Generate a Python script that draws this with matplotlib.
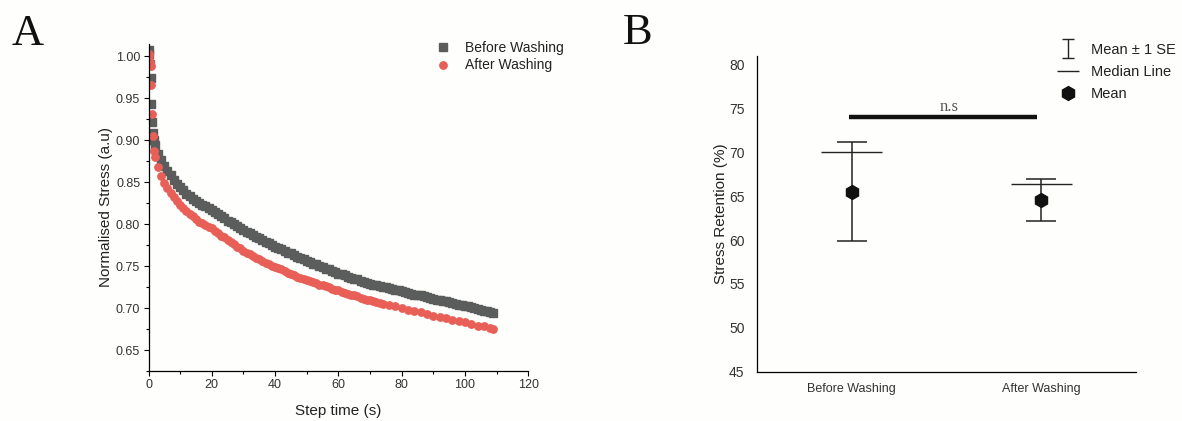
import matplotlib
matplotlib.use("Agg")
import matplotlib.pyplot as plt
import numpy as np
from matplotlib.ticker import MultipleLocator, FormatStrFormatter
from matplotlib.legend_handler import HandlerErrorbar

plt.rcParams['font.family'] = ['Liberation Sans', 'DejaVu Sans']

# ---------------- Panel A data ----------------
before_time = [0.1, 0.3, 0.5, 0.7, 0.9, 1.1, 1.3, 1.6,
               2, 3, 4, 5, 6, 7, 8, 9, 10, 11, 12, 13, 14, 15, 16, 17, 18, 19, 20,
               21, 22, 23, 24, 25, 26, 27, 28, 29, 30, 31, 32, 33, 34, 35, 36, 37, 38, 39, 40,
               41, 42, 43, 44, 45, 46, 47, 48, 49, 50, 51, 52, 53, 54, 55, 56, 57, 58, 59, 60,
               61, 62, 63, 64, 65, 66, 67, 68, 69, 70, 71, 72, 73, 74, 75, 76, 77, 78, 79, 80,
               81, 82, 83, 84, 85, 86, 87, 88, 89, 90, 91, 92, 93, 94, 95, 96, 97, 98, 99, 100,
               101, 102, 103, 104, 105, 106, 107, 108, 109]

before_stress = [1.007, 1.003, 0.990, 0.974, 0.943, 0.921, 0.909, 0.900,
                 0.894, 0.884, 0.876, 0.869, 0.863, 0.858, 0.853, 0.848, 0.844, 0.840,
                 0.836, 0.833, 0.830, 0.827, 0.825, 0.823, 0.821, 0.819, 0.817,
                 0.814, 0.812, 0.809, 0.807, 0.804, 0.802, 0.800, 0.798, 0.795, 0.793,
                 0.791, 0.789, 0.787, 0.785, 0.783, 0.781, 0.779, 0.777, 0.775, 0.773,
                 0.772, 0.770, 0.768, 0.766, 0.765, 0.763, 0.761, 0.759, 0.758, 0.756,
                 0.755, 0.753, 0.752, 0.750, 0.749, 0.747, 0.746, 0.744, 0.743, 0.741,
                 0.740, 0.739, 0.737, 0.736, 0.735, 0.734, 0.732, 0.731, 0.730, 0.729,
                 0.728, 0.727, 0.726, 0.725, 0.7245, 0.724, 0.723, 0.722, 0.721, 0.720,
                 0.719, 0.718, 0.717, 0.716, 0.7155, 0.715, 0.714, 0.713, 0.712, 0.711,
                 0.710, 0.709, 0.7085, 0.708, 0.707, 0.706, 0.705, 0.704, 0.7035, 0.703,
                 0.702, 0.701, 0.700, 0.699, 0.698, 0.697, 0.696, 0.695, 0.694]

after_time = [0.1, 0.3, 0.5, 0.7, 0.9, 1.1, 1.3, 1.6,
              2, 3, 4, 5, 6, 7, 8, 9, 10, 11, 12, 13, 14, 15, 16, 17, 18, 19, 20,
              21, 22, 23, 24, 25, 26, 27, 28, 29, 30, 31, 32, 33, 34, 35, 36, 37, 38, 39, 40,
              41, 42, 43, 44, 45, 46, 47, 48, 49, 50, 51, 52, 53, 54, 55, 56, 57, 58, 59, 60,
              61, 62, 63, 64, 65, 66, 67, 68, 69, 70, 71, 72, 73, 74,
              76, 78, 80, 82, 84, 86, 88, 90, 92, 94, 96, 98, 100, 102, 104, 106, 108, 109]

after_stress = [1.002, 1.000, 0.993, 0.988, 0.965, 0.931, 0.905, 0.887,
                0.880, 0.868, 0.857, 0.849, 0.843, 0.837, 0.832, 0.827, 0.823, 0.819,
                0.815, 0.812, 0.809, 0.806, 0.803, 0.801, 0.799, 0.797, 0.795,
                0.792, 0.789, 0.786, 0.784, 0.781, 0.779, 0.776, 0.773, 0.771, 0.768,
                0.766, 0.764, 0.762, 0.760, 0.758, 0.756, 0.754, 0.752, 0.7505, 0.749,
                0.7475, 0.746, 0.744, 0.742, 0.7405, 0.739, 0.7375, 0.736, 0.7345, 0.733,
                0.732, 0.731, 0.7295, 0.728, 0.727, 0.726, 0.7245, 0.723, 0.722, 0.721,
                0.7195, 0.718, 0.717, 0.716, 0.715, 0.714, 0.7125, 0.711, 0.710, 0.709,
                0.708, 0.707, 0.706, 0.705,
                0.704, 0.702, 0.700, 0.698, 0.696, 0.695, 0.693, 0.691, 0.689, 0.688,
                0.686, 0.684, 0.683, 0.681, 0.679, 0.678, 0.676, 0.675]

# ---------------- Panel B data ----------------
groups = ["Before Washing", "After Washing"]
mean_retention = [65.44, 64.56]
se_upper = [71.17, 66.93]
se_lower = [59.86, 62.19]
median_retention = [70.0, 66.4]
sig_label = "n.s"
sig_level = 74.0

GRAY = '#5a5d5b'
RED = '#e85f57'
TXT = '#333333'

fig = plt.figure(figsize=(11.82, 4.21), dpi=100, facecolor='#fefefd')

# ================= Panel A =================
axA = fig.add_axes([148.5 / 1182, 1 - 371 / 421, (528.3 - 148.5) / 1182, (371 - 43.5) / 421])
axA.set_facecolor('none')
axA.plot(before_time, before_stress, ls='none', marker='s', ms=5.4, color=GRAY,
         mec=GRAY, label='Before Washing')
axA.plot(after_time, after_stress, ls='none', marker='o', ms=5.3, color=RED,
         mec=RED, label='After Washing')
axA.set_xlim(0, 120)
axA.set_ylim(0.625, 1.015)
axA.xaxis.set_major_locator(MultipleLocator(20))
axA.xaxis.set_minor_locator(MultipleLocator(10))
axA.yaxis.set_major_locator(MultipleLocator(0.05))
axA.yaxis.set_minor_locator(MultipleLocator(0.025))
axA.yaxis.set_major_formatter(FormatStrFormatter('%.2f'))
for s in ['top', 'right']:
    axA.spines[s].set_visible(False)
for s in ['left', 'bottom']:
    axA.spines[s].set_linewidth(0.9)
axA.tick_params(which='major', direction='out', length=3.5, width=0.8,
                labelsize=9, labelcolor=TXT, pad=2.5)
axA.tick_params(which='minor', direction='out', length=2.5, width=0.8)
axA.set_xlabel('Step time (s)', fontsize=11, color='#222222', labelpad=9)
axA.set_ylabel('Normalised Stress (a.u)', fontsize=11, color='#222222', labelpad=2)
axA.legend(loc='upper left', bbox_to_anchor=(436 / 1182, 1 - 41 / 421),
           bbox_transform=fig.transFigure, frameon=False, fontsize=10,
           handlelength=1.0, handletextpad=1.1, labelspacing=0.25,
           borderpad=0, borderaxespad=0, labelcolor='#222222')

fig.text(12 / 1182, 1 - 45 / 421, 'A', family='Liberation Serif', fontsize=32,
         ha='left', va='baseline', color='#111111')

# ================= Panel B =================
axB = fig.add_axes([757 / 1182, 1 - 371.5 / 421, (1136 - 757) / 1182, (371.5 - 56) / 421])
axB.set_facecolor('none')
xpos = list(range(len(groups)))
yerr = [[m - lo for m, lo in zip(mean_retention, se_lower)],
        [hi - m for m, hi in zip(mean_retention, se_upper)]]
axB.errorbar(xpos, mean_retention, yerr=yerr, fmt='none', ecolor='#222222',
             elinewidth=1.1, capsize=10.8, capthick=1.1)
h_med = axB.hlines(median_retention, [x - 0.162 for x in xpos], [x + 0.162 for x in xpos],
                   colors='#222222', linewidth=1.0, label='Median Line')
h_mean, = axB.plot(xpos, mean_retention, ls='none', marker='h', ms=10, color='#111111',
                   label='Mean', zorder=5)
# legend-only proxy for the error bar symbol (small caps)
h_se = axB.errorbar([np.nan], [np.nan], yerr=[1.0], fmt='none', ecolor='#222222',
                    elinewidth=1.0, capsize=4, capthick=1.0, label='Mean \u00b1 1 SE')
axB.plot([xpos[0] - 0.015, xpos[1] - 0.02], [sig_level, sig_level], color='#111111',
         lw=3.2, solid_capstyle='butt')
axB.text(0.513, sig_level + 0.75, sig_label, family='Liberation Serif', fontsize=12,
         color='#555555', ha='center', va='baseline')
axB.set_xlim(-0.5, 1.5)
axB.set_ylim(45, 81)
axB.set_xticks(xpos)
axB.set_xticklabels(groups)
axB.yaxis.set_major_locator(MultipleLocator(5))
for s in ['top', 'right']:
    axB.spines[s].set_visible(False)
for s in ['left', 'bottom']:
    axB.spines[s].set_linewidth(0.9)
axB.tick_params(axis='both', length=0, labelcolor=TXT)
axB.tick_params(axis='y', pad=9, labelsize=10)
axB.tick_params(axis='x', pad=8, labelsize=9)
axB.set_ylabel('Stress Retention (%)', fontsize=11, color='#222222', labelpad=1)
axB.legend([h_se, h_med, h_mean], ['Mean \u00b1 1 SE', 'Median Line', 'Mean'],
           handler_map={h_se: HandlerErrorbar(yerr_size=0.65)},
           loc='upper left', bbox_to_anchor=(1057 / 1182, 1 - 43 / 421),
           bbox_transform=fig.transFigure, frameon=False, fontsize=10.5,
           handlelength=1.5, handletextpad=0.8, labelspacing=0.55,
           borderpad=0, borderaxespad=0, labelcolor='#222222')

fig.text(623 / 1182, 1 - 44 / 421, 'B', family='Liberation Serif', fontsize=32,
         ha='left', va='baseline', color='#111111')

fig.savefig('out.png', dpi=100, facecolor=fig.get_facecolor())
